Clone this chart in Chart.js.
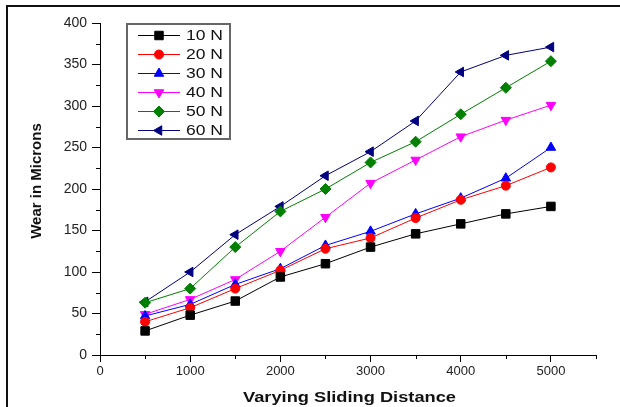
<!DOCTYPE html>
<html>
<head>
<meta charset="utf-8">
<title>Wear vs sliding distance</title>
<script src="https://cdn.jsdelivr.net/npm/chart.js@4.4.0/dist/chart.umd.min.js"></script>
<style>
	html, body { margin: 0; padding: 0; background: #fff; }
	#wrap { width: 620px; height: 407px; }
</style>
</head>
<body>
<div id="wrap"><canvas id="chart" width="620" height="407"></canvas></div>
<script>
// Sliding distance (x) and wear in microns for each load
const distances = [500, 1000, 1500, 2000, 2500, 3000, 3500, 4000, 4500, 5000];
const wear10N = [29, 48, 65, 94, 110, 130, 146, 158, 170, 179];
const wear20N = [40, 57, 80, 102, 128, 141, 165, 187, 204, 226];
const wear30N = [47, 61, 85, 104, 132, 149, 170, 189, 213, 250];
const wear40N = [49, 67, 91, 125, 166, 207, 235, 263, 283, 301];
const wear50N = [63, 80, 130, 173, 200, 232, 257, 290, 322, 354];
const wear60N = [64, 100, 145, 179, 216, 245, 282, 341, 361, 371];
const loadLabels = ['10 N', '20 N', '30 N', '40 N', '50 N', '60 N'];

// Tick values (major ones get labels, minor ones are short marks)
const xTicks = [0, 1000, 2000, 3000, 4000, 5000];
const yTicks = [0, 50, 100, 150, 200, 250, 300, 350, 400];
const xMinorTicks = [500, 1500, 2500, 3500, 4500, 5500];
const yMinorTicks = [25, 75, 125, 175, 225, 275, 325, 375];

const xTitle = 'Varying Sliding Distance';
const yTitle = 'Wear in Microns';

(() => {
	'use strict'

	const fontFamily = '"Liberation Sans", Arial, sans-serif';
	Chart.defaults.font.family = fontFamily;
	Chart.defaults.color = '#222';

	const series = [wear10N, wear20N, wear30N, wear40N, wear50N, wear60N];
	const colors = ['#000000', '#ff0000', '#0000ff', '#ff00ff', '#008000', '#000080'];
	const styles = ['rect', 'circle', 'triangle', 'triangle', 'rectRot', 'triangle'];
	const rotations = [0, 0, 0, 180, 0, 270];
	const radii = [6, 4.5, 5.5, 5.5, 5.5, 5.5];

	const datasets = series.map((values, i) => ({
		label: loadLabels[i],
		data: values.map((v, j) => ({ x: distances[j], y: v })),
		borderColor: colors[i],
		backgroundColor: colors[i],
		borderWidth: 1,
		pointStyle: styles[i],
		pointRotation: rotations[i],
		pointRadius: radii[i],
		pointBorderWidth: 1,
		pointBackgroundColor: colors[i],
		pointBorderColor: colors[i],
		tension: 0,
	}));

	// Text in the original figure is stretched sideways, so stretch it to a width
	function wideText(ctx, text, x, y, width) {
		const w = ctx.measureText(text).width;
		ctx.save();
		ctx.translate(x, y);
		ctx.scale(width / w, 1);
		ctx.fillText(text, 0, 0);
		ctx.restore();
	}

	// Frame, minor ticks, axis titles and the boxed legend
	const decor = {
		id: 'decor',
		beforeDraw(chart) {
			const ctx = chart.ctx;
			ctx.save();
			ctx.fillStyle = '#fff';
			ctx.fillRect(0, 0, chart.width, chart.height);
			ctx.fillStyle = '#111';
			ctx.fillRect(6, 5, chart.width - 6, 2);
			ctx.fillRect(6, 5, 2, chart.height - 5);
			ctx.restore();
		},
		afterDraw(chart) {
			const ctx = chart.ctx;
			const area = chart.chartArea;
			const xs = chart.scales.x;
			const ys = chart.scales.y;
			ctx.save();

			// minor ticks
			ctx.strokeStyle = '#000';
			ctx.lineWidth = 1;
			ctx.beginPath();
			yMinorTicks.forEach(v => {
				const py = Math.round(ys.getPixelForValue(v)) + 0.5;
				ctx.moveTo(area.left - 4, py);
				ctx.lineTo(area.left, py);
			});
			xMinorTicks.forEach(v => {
				const px = Math.round(xs.getPixelForValue(v)) + 0.5;
				ctx.moveTo(px, area.bottom);
				ctx.lineTo(px, area.bottom + 4);
			});
			ctx.stroke();

			// axis titles
			ctx.fillStyle = '#111';
			ctx.font = 'bold 15px ' + fontFamily;
			ctx.textAlign = 'left';
			ctx.textBaseline = 'alphabetic';
			wideText(ctx, xTitle, 243, 402, 213);

			ctx.save();
			ctx.translate(41, 181);
			ctx.rotate(-Math.PI / 2);
			ctx.textAlign = 'center';
			ctx.fillText(yTitle, 0, 0);
			ctx.restore();

			// legend box
			ctx.strokeStyle = '#666';
			ctx.lineWidth = 2;
			ctx.strokeRect(127, 24, 103, 115);
			ctx.font = '14px ' + fontFamily;
			ctx.textBaseline = 'middle';
			ctx.textAlign = 'left';
			chart.data.datasets.forEach((ds, i) => {
				const cy = 35.5 + i * 19;
				ctx.strokeStyle = ds.borderColor;
				ctx.lineWidth = 1;
				ctx.beginPath();
				ctx.moveTo(138, cy);
				ctx.lineTo(180, cy);
				ctx.stroke();
				ctx.fillStyle = ds.borderColor;
				Chart.helpers.drawPoint(ctx, {
					pointStyle: ds.pointStyle,
					rotation: ds.pointRotation,
					radius: ds.pointRadius,
					borderWidth: 1,
				}, 159, cy);
				ctx.fillStyle = '#111';
				wideText(ctx, ds.label, 186, cy + 1, 37);
			});
			ctx.restore();
		}
	};

	const config = {
		type: 'line',
		data: { datasets: datasets },
		options: {
			responsive: false,
			animation: false,
			devicePixelRatio: 1,
			layout: {
				padding: { top: 23, right: 24, left: 0, bottom: 0 }
			},
			scales: {
				x: {
					type: 'linear',
					min: 0,
					max: 5500,
					afterBuildTicks: s => { s.ticks = xTicks.map(v => ({ value: v })); },
					afterFit: s => { s.height = 52; },
					ticks: {
						padding: 2,
						color: '#222',
						font: { size: 13 },
						maxRotation: 0,
						autoSkip: false,
						callback: v => String(v),
					},
					grid: {
						drawOnChartArea: false,
						drawTicks: true,
						tickLength: 7,
						tickColor: '#000',
					},
					border: { display: true, color: '#000', width: 1 },
				},
				y: {
					type: 'linear',
					min: 0,
					max: 400,
					afterBuildTicks: s => { s.ticks = yTicks.map(v => ({ value: v })); },
					afterFit: s => { s.width = 100; },
					ticks: {
						padding: 5,
						color: '#222',
						font: { size: 14 },
						autoSkip: false,
						callback: v => String(v),
					},
					grid: {
						drawOnChartArea: false,
						drawTicks: true,
						tickLength: 8,
						tickColor: '#000',
					},
					border: { display: true, color: '#000', width: 1 },
				}
			},
			plugins: {
				legend: { display: false },
				tooltip: { enabled: false },
				title: { display: false },
			}
		},
		plugins: [decor]
	};

	const myChart = new Chart(document.getElementById('chart'), config);
})()
</script>
</body>
</html>
